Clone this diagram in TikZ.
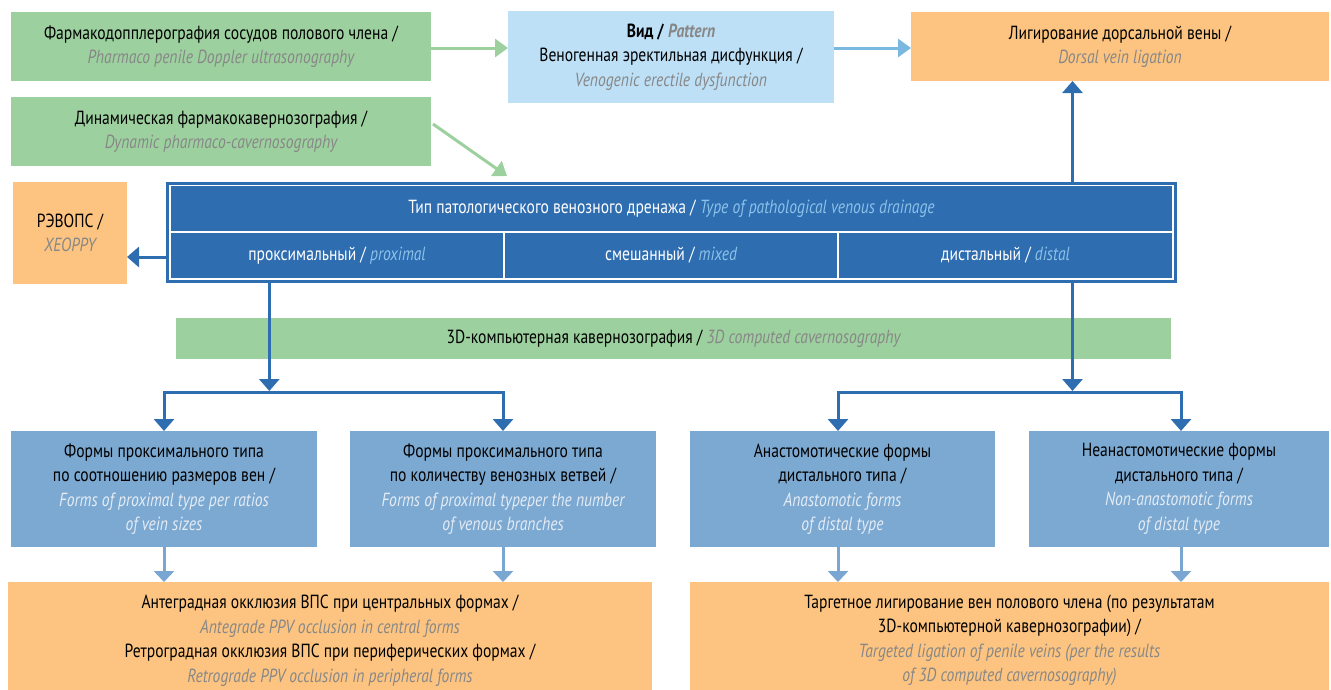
\documentclass[tikz,border=0pt]{standalone}
\usepackage{fontspec}
\setmainfont{PT Sans}[FakeStretch=0.82]
\usetikzlibrary{arrows.meta,calc}
\definecolor{grn}{RGB}{157,208,159}
\definecolor{lblue}{RGB}{189,224,246}
\definecolor{orng}{RGB}{252,196,128}
\definecolor{dblue}{RGB}{46,109,176}
\definecolor{mblue}{RGB}{124,169,209}
\definecolor{arrlb}{RGB}{122,184,224}
\definecolor{arrmb}{RGB}{122,166,210}
\definecolor{gtxt}{RGB}{135,135,135}
\definecolor{ltxt}{RGB}{228,236,245}
\definecolor{cbl}{RGB}{140,194,234}
\newcommand\en[1]{{\itshape\color{gtxt}#1}}
\newcommand\enl[1]{{\itshape\color{ltxt}#1}}
\newcommand\enb[1]{{\itshape\color{cbl}#1}}
\begin{document}
\begin{tikzpicture}[x=1pt,y=-1pt,
  box/.style={anchor=north west, inner sep=0pt, outer sep=0pt, align=center,
    font=\fontsize{19}{24.5}\selectfont},
  cell/.style={box, fill=dblue, text=white, minimum height=45pt},
  darr/.style={draw=dblue, line width=3pt, -{Triangle[width=20pt,length=12pt]}},
  garr/.style={draw=grn, line width=3pt, -{Triangle[width=18pt,length=13pt]}},
  larr/.style={draw=arrlb, line width=3pt, -{Triangle[width=18pt,length=13pt]}},
  marr/.style={draw=arrmb, line width=3pt, -{Triangle[width=20pt,length=11pt]}},
]
\useasboundingbox (0,0) rectangle (1331,689);

% top row
\node[box, fill=grn, minimum width=420pt, minimum height=69pt] (A) at (11,12)
  {Фармакодопплерография сосудов полового члена /\\\en{Pharmaco penile Doppler ultrasonography}};
\node[box, fill=grn, minimum width=420pt, minimum height=69pt] (B) at (11,97)
  {Динамическая фармакокавернозография /\\\en{Dynamic pharmaco-cavernosography}};
\node[box, fill=lblue, minimum width=326pt, minimum height=92pt] (C) at (508,11)
  {\textbf{Вид /} \textbf{\en{Pattern}}\\Веногенная эректильная дисфункция /\\\en{Venogenic erectile dysfunction}};
\node[box, fill=orng, minimum width=418pt, minimum height=69pt] (D) at (911,12)
  {Лигирование дорсальной вены /\\\en{Dorsal vein ligation}};
\node[box, fill=orng, minimum width=114pt, minimum height=102pt] (R) at (13,182)
  {РЭВОПС /\\\en{XEOPPY}};

% central table
\node[box, draw=dblue, line width=3pt, minimum width=1008pt, minimum height=98pt] (T) at (167.5,183.5) {};
\node[cell, minimum width=1001pt] (T1) at (171,186)
  {Тип патологического венозного дренажа / \enb{Type of pathological venous drainage}};
\node[cell, minimum width=332pt] (P) at (171,233) {проксимальный / \enb{proximal}};
\node[cell, minimum width=332pt] (M) at (505,233) {смешанный / \enb{mixed}};
\node[cell, minimum width=333pt] (Q) at (839,233) {дистальный / \enb{distal}};

% 3D bar
\node[box, fill=grn, minimum width=995pt, minimum height=41pt] (G3) at (176,318)
  {3D-компьютерная кавернозография / \en{3D computed cavernosography}};

% form boxes
\node[box, fill=mblue, minimum width=306pt, minimum height=116pt] (E) at (11,431)
  {Формы проксимального типа\\по соотношению размеров вен /\\\enl{Forms of proximal type per ratios}\\\enl{of vein sizes}};
\node[box, fill=mblue, minimum width=306pt, minimum height=116pt] (F) at (350,431)
  {Формы проксимального типа\\по количеству венозных ветвей /\\\enl{Forms of proximal typeper the number}\\\enl{of venous branches}};
\node[box, fill=mblue, minimum width=305pt, minimum height=116pt] (H) at (690,431)
  {Анастомотические формы\\дистального типа /\\\enl{Anastomotic forms}\\\enl{of distal type}};
\node[box, fill=mblue, minimum width=300pt, minimum height=116pt] (I) at (1029,431)
  {Неанастомотические формы\\дистального типа /\\\enl{Non-anastomotic forms}\\\enl{of distal type}};

% bottom boxes (run past the lower page edge, as in the reference)
\node[box, fill=orng, minimum width=644pt, minimum height=117pt] (G) at (8,582)
  {Антеградная окклюзия ВПС при центральных формах /\\\en{Antegrade PPV occlusion in central forms}\\Ретроградная окклюзия ВПС при периферических формах /\\\en{Retrograde PPV occlusion in peripheral forms}};
\node[box, fill=orng, minimum width=639pt, minimum height=117pt] (J) at (690,582)
  {Таргетное лигирование вен полового члена (по результатам\\3D-компьютерной кавернозографии) /\\\en{Targeted ligation of penile veins (per the results}\\\en{of 3D computed cavernosography)}};

% helper coordinates
\coordinate (px) at (269.3,0);
\coordinate (dx) at (1072.5,0);
\coordinate (ry) at (0,257);
\coordinate (by) at (0,392);
\coordinate (hx) at (838,0);
\coordinate (ix) at (1181,0);
\coordinate (gt) at (507,176);

% connectors
\draw[garr] (A.east |- 0,48) -- (C.west |- 0,48);
\draw[larr] (C.east |- 0,48) -- (D.west |- 0,48);
\draw[garr] ($(B.north east)+(2,27)$) -- (gt);
\draw[darr] (T.north -| dx) -- (D.south -| dx);
\draw[darr] (T.west |- ry) -- (R.east |- ry);
\draw[darr] (T.south -| px) -- (px |- 0,391);
\draw[darr] (T.south -| dx) -- (dx |- 0,391);
\draw[darr] (px |- by) -| (E.north);
\draw[darr] (px |- by) -| (F.north);
\draw[darr] (dx |- by) -| (H.north -| hx);
\draw[darr] (dx |- by) -| (I.north -| ix);
\draw[marr] (E.south) -- (G.north -| E.south);
\draw[marr] (F.south) -- (G.north -| F.south);
\draw[marr] (H.south -| hx) -- (J.north -| hx);
\draw[marr] (I.south -| ix) -- (J.north -| ix);
\end{tikzpicture}
\end{document}
